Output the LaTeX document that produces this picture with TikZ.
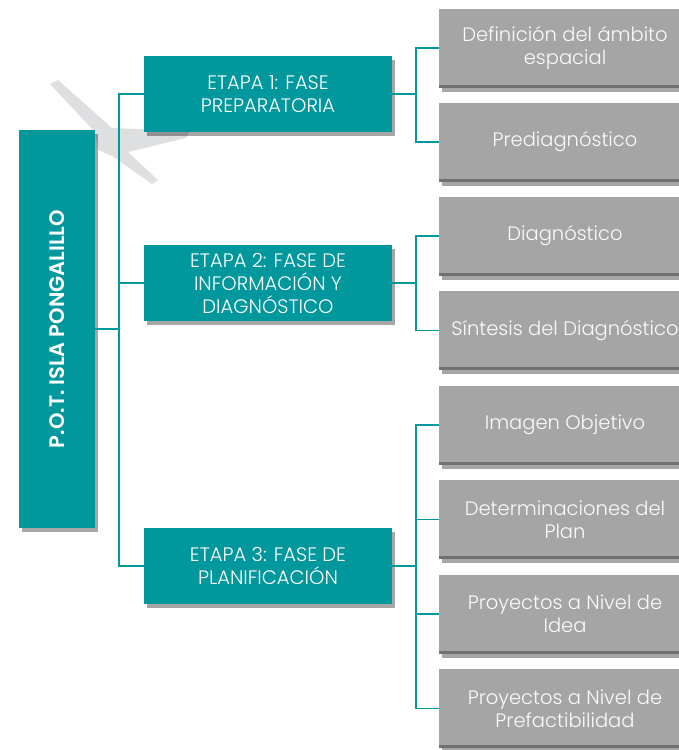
\documentclass[tikz,border=0pt]{standalone}
\usepackage{fontspec}
\setmainfont{Poppins}[UprightFont=* Light,BoldFont=* SemiBold]
\usetikzlibrary{shadows}

\definecolor{potteal}{HTML}{00979D}
\definecolor{leafgray}{HTML}{A5A5A5}
\definecolor{leafedge}{HTML}{707070}
\definecolor{birdgray}{HTML}{D6D7D9}

\begin{document}
\begin{tikzpicture}[x=1pt,y=-1pt,
    link/.style={draw=potteal,line width=1.6pt},
    boxshadow/.style={drop shadow={shadow xshift=3pt,shadow yshift=-4pt,fill=black,opacity=.35}},
    root node/.style={rotate=90,fill=potteal,text=white,boxshadow,minimum width=398pt,minimum height=76pt,inner sep=0pt,font=\fontsize{21}{24}\selectfont\bfseries},
    stage node/.style={fill=potteal,text=white,boxshadow,minimum width=248pt,minimum height=76pt,inner sep=0pt,align=center,font=\fontsize{19.5}{23}\selectfont},
    leaf node/.style={fill=leafgray,text=white!94!leafgray,boxshadow,minimum width=252pt,minimum height=79pt,inner sep=0pt,align=center,font=\fontsize{19.5}{23}\selectfont,
        path picture={\draw[leafedge,line width=3pt] ([yshift=1.5pt]path picture bounding box.south west) -- ([yshift=1.5pt]path picture bounding box.south east);}}]
    \useasboundingbox (0,0) rectangle (679,750);
    \clip (0,0) rectangle (679,750);

    % faint bird behind the chart
    \fill[birdgray,opacity=.8] (50,84) -- (58,80) -- (112,128) -- (190,131) -- (186,138) -- (128,152) -- (158,180) -- (152,184) -- (112,156) -- (98,150) -- (95,132) -- cycle;

    \node[root node] (root) at (57,329) {P.O.T. ISLA PONGALILLO};

    \node[stage node] (s1) at (268,94) {ETAPA 1: FASE\\PREPARATORIA};
    \node[stage node] (s2) at (268,283) {ETAPA 2: FASE DE\\INFORMACIÓN Y\\DIAGNÓSTICO};
    \node[stage node] (s3) at (268,566) {ETAPA 3: FASE DE\\PLANIFICACIÓN};

    \node[leaf node] (l1) at (565,48) {Definición del ámbito\\espacial};
    \node[leaf node] (l2) at (565,142) {Prediagnóstico};
    \node[leaf node] (l3) at (565,236) {Diagnóstico};
    \node[leaf node] (l4) at (565,330.5) {Síntesis del Diagnóstico};
    \node[leaf node] (l5) at (565,425) {Imagen Objetivo};
    \node[leaf node] (l6) at (565,519.5) {Determinaciones del\\Plan};
    \node[leaf node] (l7) at (565,614) {Proyectos a Nivel de\\Idea};
    \node[leaf node] (l8) at (565,708.5) {Proyectos a Nivel de\\Prefactibilidad};

    \coordinate (busL) at (119,0);
    \coordinate (busR) at (416,0);

    \draw[link] (root.south) -- (root.south -| busL);
    \draw[link] (s1.west) -- (s1.west -| busL) -- (s3.west -| busL) -- (s3.west);
    \draw[link] (s2.west) -- (s2.west -| busL);

    \draw[link] (s1.east) -- (s1.east -| busR);
    \draw[link] (l1.west) -- (l1.west -| busR) -- (l2.west -| busR) -- (l2.west);
    \draw[link] (s2.east) -- (s2.east -| busR);
    \draw[link] (l3.west) -- (l3.west -| busR) -- (l4.west -| busR) -- (l4.west);
    \draw[link] (s3.east) -- (s3.east -| busR);
    \draw[link] (l5.west) -- (l5.west -| busR) -- (l8.west -| busR) -- (l8.west);
    \draw[link] (l6.west) -- (l6.west -| busR);
    \draw[link] (l7.west) -- (l7.west -| busR);
\end{tikzpicture}
\end{document}
